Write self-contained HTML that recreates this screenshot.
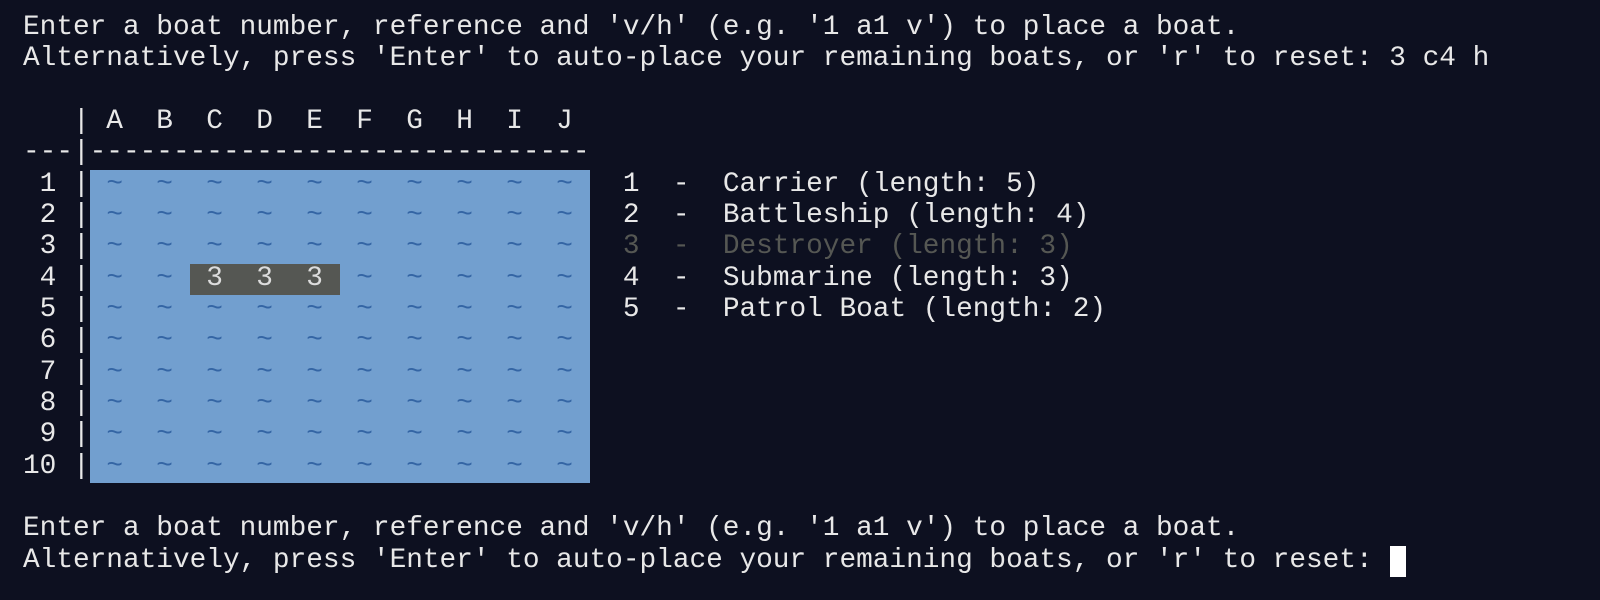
<!DOCTYPE html>
<html><head><meta charset="utf-8"><style>
html,body{margin:0;padding:0;width:1600px;height:600px;background:#0d1020;overflow:hidden}
.bg{position:absolute}
pre{position:absolute;left:23px;top:12px;margin:0;font-family:"Liberation Mono",monospace;font-size:27.78px;line-height:31.33px;color:#e8e8e8;white-space:pre}
.t{color:#3465a4}
.d{color:#555753}
.s{color:#dcdcdc}
</style></head><body>
<div class="bg" style="left:89.7px;top:170px;width:500px;height:313px;background:#729fcf"></div>
<div class="bg" style="left:189.7px;top:264px;width:150px;height:31px;background:#555753"></div>
<div class="bg" style="left:1389.7px;top:546px;width:16.67px;height:31px;background:#ffffff"></div>
<pre>Enter a boat number, reference and 'v/h' (e.g. '1 a1 v') to place a boat.
Alternatively, press 'Enter' to auto-place your remaining boats, or 'r' to reset: 3 c4 h

   | A  B  C  D  E  F  G  H  I  J
---|------------------------------
 1 |<span class="t"> ~  ~  ~  ~  ~  ~  ~  ~  ~  ~ </span>  1  -  Carrier (length: 5)
 2 |<span class="t"> ~  ~  ~  ~  ~  ~  ~  ~  ~  ~ </span>  2  -  Battleship (length: 4)
 3 |<span class="t"> ~  ~  ~  ~  ~  ~  ~  ~  ~  ~ </span>  <span class="d">3  -  Destroyer (length: 3)</span>
 4 |<span class="t"> ~  ~ </span><span class="s"> 3  3  3 </span><span class="t"> ~  ~  ~  ~  ~ </span>  4  -  Submarine (length: 3)
 5 |<span class="t"> ~  ~  ~  ~  ~  ~  ~  ~  ~  ~ </span>  5  -  Patrol Boat (length: 2)
 6 |<span class="t"> ~  ~  ~  ~  ~  ~  ~  ~  ~  ~ </span>
 7 |<span class="t"> ~  ~  ~  ~  ~  ~  ~  ~  ~  ~ </span>
 8 |<span class="t"> ~  ~  ~  ~  ~  ~  ~  ~  ~  ~ </span>
 9 |<span class="t"> ~  ~  ~  ~  ~  ~  ~  ~  ~  ~ </span>
10 |<span class="t"> ~  ~  ~  ~  ~  ~  ~  ~  ~  ~ </span>

Enter a boat number, reference and 'v/h' (e.g. '1 a1 v') to place a boat.
Alternatively, press 'Enter' to auto-place your remaining boats, or 'r' to reset: </pre>
</body></html>
